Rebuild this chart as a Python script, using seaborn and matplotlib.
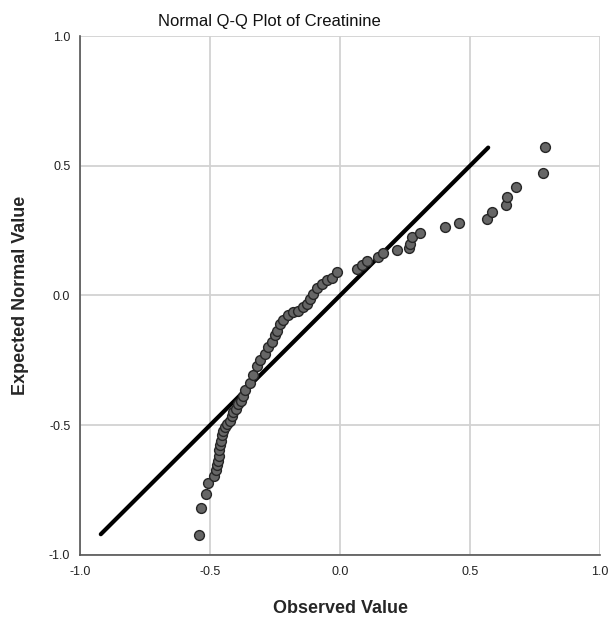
import matplotlib
matplotlib.use("Agg")
import matplotlib.pyplot as plt
import seaborn as sns
import pandas as pd

observado = [
    -0.541, -0.533, -0.517, -0.507, -0.485, -0.477, -0.472, -0.468, -0.465,
    -0.464, -0.462, -0.459, -0.454, -0.449, -0.441, -0.433, -0.423, -0.417,
    -0.410, -0.400, -0.391, -0.382, -0.374, -0.365, -0.346, -0.335, -0.320,
    -0.308, -0.288, -0.277, -0.263, -0.250, -0.243, -0.231, -0.219, -0.200,
    -0.181, -0.162, -0.142, -0.128, -0.115, -0.104, -0.090, -0.070, -0.051,
    -0.032, -0.012, 0.064, 0.083, 0.103, 0.147, 0.167, 0.218, 0.265, 0.269,
    0.276, 0.308, 0.404, 0.459, 0.564, 0.583, 0.638, 0.641, 0.677, 0.782,
    0.788,
]
esperado = [
    -0.922, -0.818, -0.764, -0.723, -0.697, -0.674, -0.655, -0.636, -0.617,
    -0.597, -0.578, -0.559, -0.539, -0.523, -0.507, -0.494, -0.482, -0.466,
    -0.450, -0.437, -0.420, -0.408, -0.389, -0.366, -0.339, -0.308, -0.270,
    -0.250, -0.224, -0.200, -0.180, -0.154, -0.135, -0.108, -0.096, -0.077,
    -0.064, -0.058, -0.045, -0.031, -0.015, 0.004, 0.027, 0.046, 0.058,
    0.069, 0.090, 0.103, 0.116, 0.132, 0.148, 0.163, 0.176, 0.184, 0.199,
    0.225, 0.242, 0.263, 0.279, 0.296, 0.321, 0.347, 0.379, 0.417, 0.473,
    0.574,
]
linea_ref = [-0.92, 0.57]
ticks = [-1.0, -0.5, 0.0, 0.5, 1.0]

df = pd.DataFrame({"observado": observado, "esperado": esperado})
df_linea = pd.DataFrame({"x": linea_ref, "y": linea_ref})

sns.set_theme(style="white")
plt.rcParams["font.family"] = ["Liberation Sans", "DejaVu Sans"]

fig = plt.figure(figsize=(6.13, 6.24), dpi=100)
ax = fig.add_axes([0.1305, 0.1106, 0.8483, 0.8317])

sns.lineplot(data=df_linea, x="x", y="y", ax=ax, color="black",
             linewidth=3.0, zorder=3)
sns.scatterplot(data=df, x="observado", y="esperado", ax=ax, s=50,
                color="#666666", edgecolor="#262626", linewidth=1.0,
                zorder=4)

ax.set_xlim(-1.0, 1.0)
ax.set_ylim(-1.0, 1.0)
ax.set_xticks(ticks)
ax.set_yticks(ticks)
ax.set_xticklabels([f"{t:.1f}" for t in ticks], fontsize=9)
ax.set_yticklabels([f"{t:.1f}" for t in ticks], fontsize=9)
ax.tick_params(axis="x", length=0, pad=8, colors="#222222")
ax.tick_params(axis="y", length=0, pad=7, colors="#222222")
ax.grid(True, color="#d2d2d2", linewidth=1.3)
ax.set_axisbelow(True)

for lado in ["top", "right"]:
    ax.spines[lado].set_visible(False)
for lado in ["left", "bottom"]:
    ax.spines[lado].set_color("#555555")
    ax.spines[lado].set_linewidth(1.2)

ax.set_xlabel("Observed Value", fontsize=13, fontweight="bold", labelpad=16)
ax.set_ylabel("Expected Normal Value", fontsize=13, fontweight="bold",
              labelpad=14)
fig.text(0.44, 0.965, "Normal Q-Q Plot of Creatinine", fontsize=12,
         ha="center", va="center", color="#111111")

fig.savefig("out.png", dpi=100)
